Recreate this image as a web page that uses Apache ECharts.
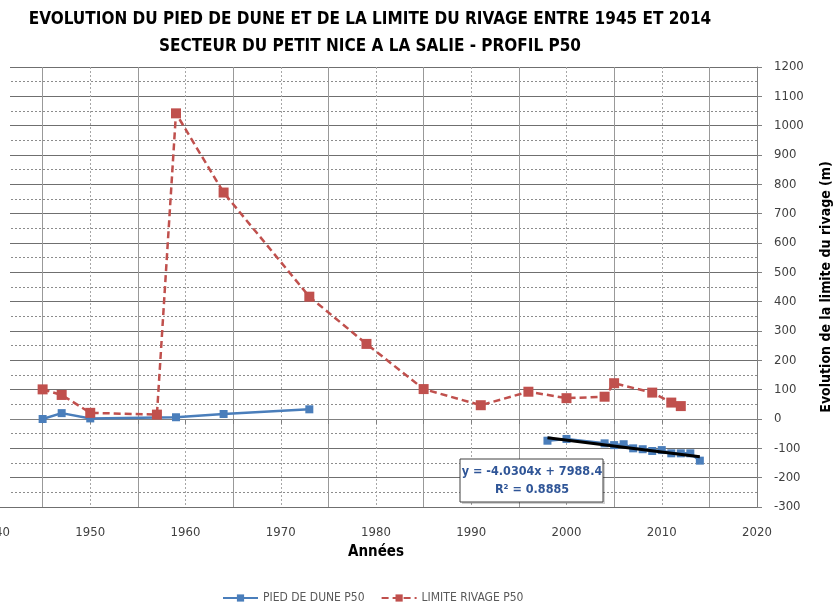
<!DOCTYPE html>
<html>
<head>
<meta charset="utf-8">
<script src="https://cdn.jsdelivr.net/npm/echarts@6/dist/echarts.min.js"></script>
<style>
html,body{margin:0;padding:0;background:#fff;overflow:hidden;}
#c{position:absolute;left:-15px;top:0;width:850px;height:603px;}
</style>
</head>
<body>
<div id="c"></div>
<script>
const titleLines = ['EVOLUTION DU PIED DE DUNE ET DE LA LIMITE DU RIVAGE ENTRE 1945 ET 2014', 'SECTEUR DU PETIT NICE A LA SALIE - PROFIL P50'];
const duneName = 'PIED DE DUNE P50';
const rivageName = 'LIMITE RIVAGE P50';
const duneYearsEarly = [1945, 1947, 1950, 1959, 1964, 1973];
const duneValuesEarly = [0, 20, 2, 6, 17, 33];
const duneYearsRecent = [1998, 2000, 2004, 2005, 2006, 2007, 2008, 2009, 2010, 2011, 2012, 2013, 2014];
const duneValuesRecent = [-74, -68, -83, -89, -86, -100, -103, -109, -106, -117, -117, -117, -142];
const rivageYears = [1945, 1947, 1950, 1957, 1959, 1964, 1973, 1979, 1985, 1991, 1996, 2000, 2004, 2005, 2009, 2011, 2012];
const rivageValues = [101, 82, 21, 15, 1042, 772, 417, 256, 102, 47, 93, 71, 76, 122, 90, 56, 44];
const trendYears = [1998, 2014];
const trendValues = [-64.3, -128.8];
const trendLabel = ['y = -4.0304x + 7988.4', 'R\u00B2 = 0.8885'];
const xAxisTitle = 'Années';
const yAxisTitle = 'Evolution de la limite du rivage (m)';

const FONT = "'Liberation Sans Narrow', 'DejaVu Sans Condensed', 'Liberation Sans', sans-serif";
const zip = (xs, ys) => xs.map((x, i) => [x, ys[i]]);
const BLUE = '#4a7ebb', RED = '#c0504d';
const OFF = 15; // container is shifted 15px left so the plot can start left of the page edge

const chart = echarts.init(document.getElementById('c'), null, {renderer: 'canvas'});
chart.setOption({
  animation: false,
  backgroundColor: '#fff',
  legend: {
    top: 592, left: 222 + OFF, padding: 0,
    itemWidth: 35, itemHeight: 9, itemGap: 16,
    data: [duneName, rivageName],
    textStyle: {fontFamily: FONT, fontSize: 12, color: '#595959'}
  },
  grid: {left: 10, right: 78, top: 67, bottom: 96, containLabel: false, outerBoundsMode: 'none'},
  xAxis: {
    type: 'value', min: 1940, max: 2020, interval: 10,
    name: xAxisTitle, nameLocation: 'middle', nameGap: 38,
    nameTextStyle: {fontFamily: FONT, fontWeight: 'bold', fontSize: 15, color: '#000'},
    axisLine: {show: true, lineStyle: {color: '#808080', width: 1}},
    axisTick: {show: true, length: 5, lineStyle: {color: '#808080'}},
    minorTick: {show: true, splitNumber: 2, length: 5, lineStyle: {color: '#808080'}},
    axisLabel: {fontFamily: FONT, fontSize: 13, color: '#404040', margin: 19, formatter: v => String(v)},
    splitLine: {show: true, lineStyle: {color: '#a6a6a6', type: [2, 2], width: 1}},
    minorSplitLine: {show: true, lineStyle: {color: '#999999', width: 1}}
  },
  yAxis: {
    type: 'value', position: 'right', min: -300, max: 1200, interval: 100,
    name: yAxisTitle, nameLocation: 'middle', nameGap: 62, nameRotate: 90,
    nameTextStyle: {fontFamily: FONT, fontWeight: 'bold', fontSize: 14, color: '#000'},
    axisLine: {show: true, lineStyle: {color: '#808080', width: 1}},
    axisTick: {show: true, length: 5, inside: false, lineStyle: {color: '#808080'}},
    axisLabel: {fontFamily: FONT, fontSize: 13, color: '#404040', margin: 17, formatter: v => String(v)},
    splitLine: {show: true, lineStyle: {color: '#6f6f6f', width: 1}},
    minorSplitLine: {show: true, lineStyle: {color: '#8c8c8c', type: [2, 2], width: 1}},
    minorTick: {show: false, splitNumber: 2}
  },
  series: [
    {
      name: duneName, type: 'line', data: zip(duneYearsEarly, duneValuesEarly),
      symbol: 'rect', symbolSize: 8, z: 3,
      lineStyle: {color: BLUE, width: 2.5}, itemStyle: {color: BLUE}
    },
    {
      name: duneName, type: 'line', data: zip(duneYearsRecent, duneValuesRecent),
      symbol: 'rect', symbolSize: 8, z: 3,
      lineStyle: {color: BLUE, width: 2.5}, itemStyle: {color: BLUE}
    },
    {
      name: rivageName, type: 'line', data: zip(rivageYears, rivageValues),
      symbol: 'rect', symbolSize: 10, z: 3,
      lineStyle: {color: RED, width: 2.5, type: [7, 4]}, itemStyle: {color: RED}
    },
    {
      name: 'trend', type: 'line', data: zip(trendYears, trendValues),
      symbol: 'none', z: 4, silent: true,
      lineStyle: {color: '#000', width: 3}
    }
  ],
  graphic: [
    {type: 'text', z: 101, position: [370 + OFF, 11],
     style: {text: titleLines[0], font: "bold 17px " + FONT, fill: '#000', textAlign: 'center'}},
    {type: 'text', z: 101, position: [370 + OFF, 38],
     style: {text: titleLines[1], font: "bold 17px " + FONT, fill: '#000', textAlign: 'center'}},
    {type: 'rect', z: 100, position: [0, 60], shape: {width: 10 + OFF, height: 446}, style: {fill: '#fff'}},
    {type: 'rect', z: 99, position: [462 + OFF, 461], shape: {width: 143, height: 43}, style: {fill: 'rgba(0,0,0,0.18)'}},
    {type: 'rect', z: 100, position: [460 + OFF, 459], shape: {width: 143, height: 43}, style: {fill: '#fff', stroke: '#404040', lineWidth: 1}},
    {type: 'text', z: 101, position: [532 + OFF, 465],
     style: {text: trendLabel[0], font: "bold 12.5px " + FONT, fill: '#2f5597', textAlign: 'center'}},
    {type: 'text', z: 101, position: [532 + OFF, 483],
     style: {text: trendLabel[1], font: "bold 12.5px " + FONT, fill: '#2f5597', textAlign: 'center'}}
  ]
});
</script>
</body>
</html>
